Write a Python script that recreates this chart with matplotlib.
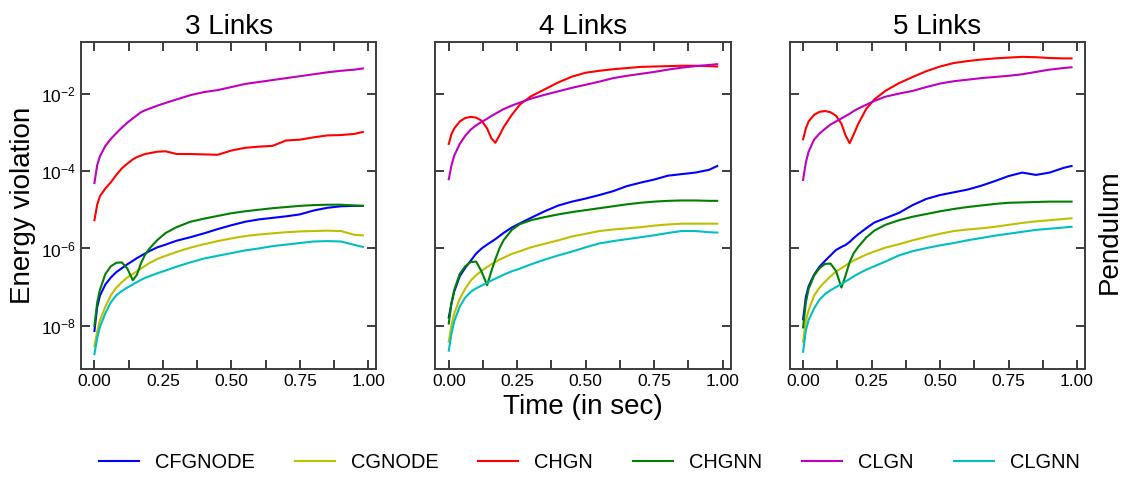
import numpy as np
import matplotlib
matplotlib.use('Agg')
import matplotlib.pyplot as plt
from matplotlib.ticker import AutoMinorLocator, NullLocator

plt.rcParams['font.family'] = ['Liberation Sans', 'DejaVu Sans']
plt.rcParams['mathtext.fontset'] = 'custom'
plt.rcParams['mathtext.rm'] = 'Liberation Sans'
plt.rcParams['mathtext.it'] = 'Liberation Sans:italic'
plt.rcParams['mathtext.bf'] = 'Liberation Sans:bold'

# time axis (sec)
t = [0, 0.01, 0.02, 0.04, 0.06, 0.08, 0.10, 0.12, 0.14, 0.155,
     0.17, 0.185, 0.20, 0.23, 0.26, 0.30, 0.35, 0.40, 0.45, 0.50,
     0.55, 0.60, 0.65, 0.70, 0.75, 0.80, 0.85, 0.90, 0.95, 0.98]

# log10 of energy violation
# 3 links
cfgnode_3 = [-8.13, -7.52, -7.22, -6.93, -6.75, -6.61, -6.51, -6.41, -6.32, -6.25,
             -6.19, -6.13, -6.07, -5.97, -5.90, -5.80, -5.71, -5.61, -5.50, -5.40,
             -5.31, -5.25, -5.21, -5.17, -5.12, -5.02, -4.95, -4.91, -4.90, -4.90]
cgnode_3 = [-8.53, -8.15, -7.86, -7.50, -7.21, -7.01, -6.87, -6.75, -6.66, -6.59,
            -6.52, -6.45, -6.38, -6.27, -6.19, -6.09, -5.98, -5.89, -5.81, -5.74,
            -5.68, -5.64, -5.61, -5.58, -5.56, -5.55, -5.54, -5.55, -5.65, -5.66]
chgn_3 = [-5.27, -4.87, -4.65, -4.45, -4.29, -4.10, -3.93, -3.81, -3.70, -3.64,
          -3.60, -3.56, -3.54, -3.50, -3.49, -3.56, -3.56, -3.57, -3.58, -3.47,
          -3.40, -3.37, -3.35, -3.21, -3.19, -3.13, -3.08, -3.07, -3.04, -2.99]
chgnn_3 = [-8.00, -7.40, -7.07, -6.66, -6.46, -6.37, -6.36, -6.52, -6.82, -6.68,
           -6.38, -6.16, -6.01, -5.78, -5.60, -5.45, -5.31, -5.23, -5.16, -5.09,
           -5.04, -5.00, -4.96, -4.93, -4.90, -4.88, -4.87, -4.87, -4.89, -4.90]
clgn_3 = [-4.31, -3.85, -3.62, -3.35, -3.17, -3.02, -2.88, -2.75, -2.64, -2.56,
          -2.48, -2.43, -2.39, -2.31, -2.24, -2.15, -2.04, -1.96, -1.91, -1.83,
          -1.75, -1.70, -1.65, -1.60, -1.55, -1.50, -1.45, -1.41, -1.38, -1.35]
clgnn_3 = [-8.73, -8.32, -8.03, -7.67, -7.39, -7.21, -7.10, -7.01, -6.93, -6.87,
           -6.81, -6.76, -6.72, -6.64, -6.57, -6.47, -6.36, -6.26, -6.19, -6.12,
           -6.05, -6.00, -5.94, -5.90, -5.86, -5.82, -5.81, -5.82, -5.91, -5.96]

# 4 links
cfgnode_4 = [-7.78, -7.42, -7.11, -6.72, -6.50, -6.32, -6.13, -6.00, -5.90, -5.83,
             -5.76, -5.68, -5.60, -5.46, -5.35, -5.21, -5.04, -4.89, -4.79, -4.71,
             -4.62, -4.52, -4.39, -4.30, -4.22, -4.12, -4.08, -4.04, -3.97, -3.87]
cgnode_4 = [-8.41, -7.98, -7.68, -7.30, -7.04, -6.83, -6.69, -6.58, -6.48, -6.41,
            -6.35, -6.29, -6.24, -6.14, -6.07, -5.97, -5.88, -5.79, -5.69, -5.62,
            -5.55, -5.51, -5.48, -5.45, -5.41, -5.38, -5.36, -5.36, -5.36, -5.36]
chgn_4 = [-3.30, -3.04, -2.90, -2.72, -2.63, -2.60, -2.62, -2.70, -2.90, -3.15,
          -3.27, -3.08, -2.87, -2.55, -2.28, -2.07, -1.89, -1.71, -1.56, -1.46,
          -1.41, -1.37, -1.34, -1.31, -1.30, -1.29, -1.28, -1.28, -1.29, -1.30]
chgnn_4 = [-7.94, -7.40, -7.07, -6.66, -6.46, -6.35, -6.34, -6.60, -6.95, -6.60,
           -6.28, -6.00, -5.79, -5.52, -5.37, -5.27, -5.19, -5.12, -5.06, -5.01,
           -4.96, -4.91, -4.86, -4.82, -4.79, -4.77, -4.76, -4.76, -4.77, -4.77]
clgn_4 = [-4.21, -3.85, -3.60, -3.30, -3.09, -2.93, -2.82, -2.73, -2.65, -2.58,
          -2.52, -2.46, -2.40, -2.31, -2.23, -2.13, -2.03, -1.94, -1.85, -1.77,
          -1.69, -1.60, -1.54, -1.49, -1.44, -1.38, -1.33, -1.29, -1.26, -1.24]
clgnn_4 = [-8.64, -8.20, -7.88, -7.50, -7.27, -7.12, -7.03, -6.96, -6.89, -6.83,
           -6.78, -6.73, -6.68, -6.59, -6.52, -6.41, -6.29, -6.18, -6.08, -5.97,
           -5.87, -5.81, -5.76, -5.71, -5.66, -5.60, -5.55, -5.55, -5.58, -5.59]

# 5 links
cfgnode_5 = [-7.83, -7.26, -6.98, -6.68, -6.47, -6.32, -6.18, -6.04, -5.96, -5.91,
             -5.83, -5.73, -5.64, -5.48, -5.33, -5.22, -5.08, -4.88, -4.72, -4.62,
             -4.55, -4.48, -4.38, -4.26, -4.13, -4.04, -4.10, -4.04, -3.92, -3.87]
cgnode_5 = [-8.41, -7.87, -7.60, -7.22, -7.01, -6.86, -6.72, -6.60, -6.51, -6.44,
            -6.37, -6.31, -6.26, -6.16, -6.08, -5.98, -5.89, -5.79, -5.70, -5.62,
            -5.55, -5.51, -5.48, -5.44, -5.39, -5.34, -5.30, -5.27, -5.24, -5.22]
chgn_5 = [-3.18, -2.90, -2.72, -2.55, -2.47, -2.45, -2.48, -2.57, -2.78, -3.08,
          -3.28, -3.05, -2.80, -2.40, -2.15, -1.93, -1.73, -1.57, -1.42, -1.30,
          -1.21, -1.16, -1.12, -1.09, -1.07, -1.05, -1.06, -1.08, -1.09, -1.09]
chgnn_5 = [-8.04, -7.40, -7.05, -6.70, -6.51, -6.40, -6.39, -6.58, -7.01, -6.70,
           -6.35, -6.12, -5.97, -5.72, -5.54, -5.39, -5.27, -5.18, -5.11, -5.04,
           -4.98, -4.93, -4.89, -4.85, -4.82, -4.81, -4.80, -4.79, -4.79, -4.79]
clgn_5 = [-4.23, -3.78, -3.50, -3.19, -3.03, -2.91, -2.80, -2.72, -2.64, -2.58,
          -2.52, -2.45, -2.39, -2.29, -2.19, -2.08, -2.00, -1.93, -1.83, -1.74,
          -1.68, -1.64, -1.60, -1.57, -1.54, -1.50, -1.44, -1.38, -1.34, -1.32]
clgnn_5 = [-8.67, -8.12, -7.85, -7.55, -7.32, -7.18, -7.08, -7.00, -6.92, -6.85,
           -6.79, -6.72, -6.66, -6.55, -6.46, -6.34, -6.18, -6.07, -5.99, -5.92,
           -5.86, -5.79, -5.73, -5.67, -5.62, -5.57, -5.52, -5.49, -5.46, -5.44]

models = ['CFGNODE', 'CGNODE', 'CHGN', 'CHGNN', 'CLGN', 'CLGNN']
colors = ['b', 'y', 'r', 'g', 'm', 'c']
titles = ['3 Links', '4 Links', '5 Links']
panels = [
    [cfgnode_3, cgnode_3, chgn_3, chgnn_3, clgn_3, clgnn_3],
    [cfgnode_4, cgnode_4, chgn_4, chgnn_4, clgn_4, clgnn_4],
    [cfgnode_5, cgnode_5, chgn_5, chgnn_5, clgn_5, clgnn_5],
]

spine_col = '#3c3c3c'

fig, axs = plt.subplots(1, 3, figsize=(11.33, 4.87), dpi=100, sharey=True)
fig.subplots_adjust(left=0.0715, right=0.9576, bottom=0.2423, top=0.9138, wspace=0.2)

for ax, title, series in zip(axs, titles, panels):
    for name, col, vals in zip(models, colors, series):
        ax.plot(t, 10 ** np.array(vals), color=col, lw=1.5, label=name)
    ax.set_yscale('log')
    ax.set_title(title, fontsize=20)
    ax.set_yticks([1e-8, 1e-6, 1e-4, 1e-2])
    ax.yaxis.set_minor_locator(NullLocator())
    ax.set_xticks([0, 0.25, 0.5, 0.75, 1.0])
    ax.xaxis.set_minor_locator(AutoMinorLocator(2))
    ax.tick_params(which='both', direction='in', top=True, right=True,
                   length=6.5, width=1.4, color=spine_col, labelsize=12.5)
    for sp in ax.spines.values():
        sp.set_linewidth(1.4)
        sp.set_color(spine_col)

axs[0].set_ylabel('Energy violation', fontsize=20)
axs[1].set_xlabel('Time (in sec)', fontsize=20)
fig.text(1110 / 1133, 1 - 232 / 487, 'Pendulum', rotation=90, fontsize=20,
         ha='center', va='center')

handles, labels = axs[0].get_legend_handles_labels()
fig.legend(handles, labels, loc='center', ncol=6, frameon=False, fontsize=14.4,
           bbox_to_anchor=(0.52, 0.051))

fig.savefig('out.png', dpi=100)
